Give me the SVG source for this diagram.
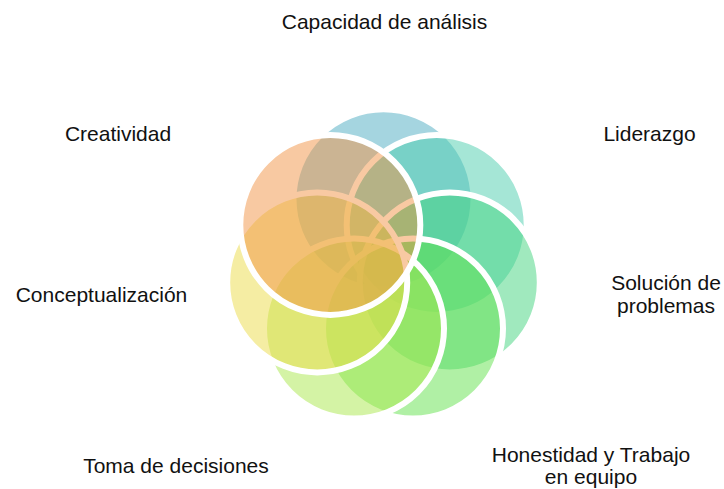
<svg xmlns="http://www.w3.org/2000/svg" width="724" height="489" viewBox="0 0 724 489">
  <style>
    .c { stroke: #FFFFFF; stroke-width: 6; fill-opacity: 0.5; }
    .t { font-family: "Liberation Sans", Arial, sans-serif; font-size: 21px; fill: #111111; text-anchor: middle; }
  </style>
  <rect width="724" height="489" fill="#FFFFFF"/>
  <g id="petals">
    <g id="n1"><circle class="c" cx="383.5" cy="199.3" r="90" fill="#4BABC2"/></g>
    <g id="n2"><circle class="c" cx="436.7" cy="224.9" r="90" fill="#4BCDAE"/></g>
    <g id="n3"><circle class="c" cx="449.8" cy="282.4" r="90" fill="#42D37E"/></g>
    <g id="n4"><circle class="c" cx="413.0" cy="328.6" r="90" fill="#61E14B"/></g>
    <g id="n5"><circle class="c" cx="354.0" cy="328.6" r="90" fill="#A9E74B"/></g>
    <g id="n6"><circle class="c" cx="317.2" cy="282.4" r="90" fill="#EBDB47"/></g>
    <g id="n7"><circle class="c" cx="330.3" cy="224.9" r="90" fill="#F19345"/></g>
  </g>
  <g id="labels">
    <text class="t" x="384.5" y="29">Capacidad de análisis</text>
    <text class="t" x="649.5" y="141">Liderazgo</text>
    <text class="t" x="666" y="289.5">Solución de</text>
    <text class="t" x="666" y="313">problemas</text>
    <text class="t" x="591" y="461.5">Honestidad y Trabajo</text>
    <text class="t" x="591" y="484">en equipo</text>
    <text class="t" x="176" y="473">Toma de decisiones</text>
    <text class="t" x="101.5" y="302">Conceptualización</text>
    <text class="t" x="118" y="141">Creatividad</text>
  </g>
</svg>
